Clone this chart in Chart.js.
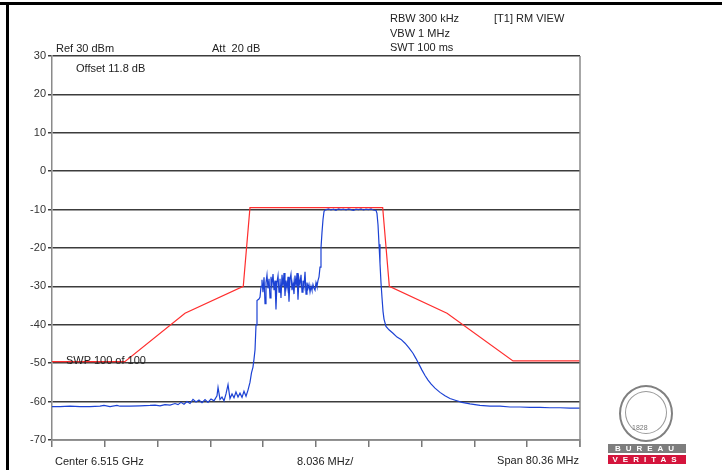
<!DOCTYPE html>
<html lang="en">
<head>
    <meta charset="UTF-8">
    <title>Spectrum Mask</title>
    <script src="https://cdn.jsdelivr.net/npm/chart.js"></script>
    <style>
        body { margin: 0; background: #fff; font-family: 'Liberation Sans', Arial, sans-serif; }
        #wrap { position: relative; width: 722px; height: 470px; overflow: hidden; }
        canvas { position: absolute; left: 0; top: 0; }
        .lbl { position: absolute; font-size: 11px; line-height: 14px; color: #222; white-space: nowrap; }
        .frameTop { position: absolute; left: 0; top: 2px; width: 722px; height: 3px; background: #000; }
        .frameLeft { position: absolute; left: 6px; top: 2px; width: 3px; height: 468px; background: #000; }
        .logoOval { position: absolute; left: 619px; top: 385px; width: 50px; height: 53px; border: 2px solid #808080; border-radius: 50%; }
        .logoInner { position: absolute; left: 625px; top: 391px; width: 40px; height: 41px; border: 1px solid #9a9a9a; border-radius: 50%; }
        .logoBar { position: absolute; left: 608px; width: 78px; height: 9px; font-size: 8px; line-height: 9px; color: #fff; text-align: center; letter-spacing: 5px; font-weight: bold; }
    </style>
</head>
<body>
<div id="wrap">
    <canvas id="specChart" width="722" height="470"></canvas>
    <div class="frameTop"></div>
    <div class="frameLeft"></div>

    <!-- analyzer settings -->
    <div class="lbl" style="left:390px; top:11px;">RBW 300 kHz</div>
    <div class="lbl" style="left:390px; top:26px;">VBW 1 MHz</div>
    <div class="lbl" style="left:390px; top:40px;">SWT 100 ms</div>
    <div class="lbl" style="left:494px; top:11px;">[T1] RM VIEW</div>
    <div class="lbl" style="left:56px; top:41px;">Ref 30 dBm</div>
    <div class="lbl" style="left:212px; top:41px;">Att&nbsp; 20 dB</div>
    <div class="lbl" style="left:76px; top:61px;">Offset 11.8 dB</div>
    <div class="lbl" style="left:66px; top:353px;">SWP 100 of 100</div>
    <div class="lbl" style="left:55px; top:454px;">Center 6.515 GHz</div>
    <div class="lbl" style="left:297px; top:454px;">8.036 MHz/</div>
    <div class="lbl" style="right:143px; top:453px;">Span 80.36 MHz</div>

    <!-- logo -->
    <div class="logoOval"></div>
    <div class="logoInner"></div>
    <div class="lbl" style="left:632px; top:424px; font-size:7px; line-height:8px; color:#777;">1828</div>
    <div class="logoBar" style="top:444px; background:#7d7d7d;">BUREAU</div>
    <div class="logoBar" style="top:455px; background:#d4143c;">VERITAS</div>
</div>

<script>
    // frequency offset from centre (MHz) and level (dBm)
    const maskFreq = [-40.18, -29.1, -19.94, -11.07, -10.05, 10.15, 11.16, 19.94, 29.98, 40.18];
    const maskLevel = [-49.6, -49.6, -37.0, -30.0, -9.5, -9.5, -30.0, -37.0, -49.4, -49.4];

    const traceFreq = [
        -40.18, -38.96, -37.44, -35.92, -34.40, -32.88, -32.27, -31.35, -30.29, -29.83,
        -28.31, -26.79, -25.27, -24.50, -23.74, -22.98, -22.22, -21.46, -21.00, -20.55,
        -20.09, -19.63, -19.18, -18.72, -18.26, -17.81, -17.35, -16.89, -16.44, -15.98,
        -15.52, -15.07, -14.91, -14.61, -14.31, -14.00, -13.70, -13.39, -13.09, -12.78,
        -12.48, -12.18, -11.87, -11.57, -11.26, -10.96, -10.65, -10.35, -10.05, -9.82,
        -9.59, -9.44, -9.28, -9.13, -8.98, -8.83,
        -8.68, -8.52, -8.37, -8.22, -8.07, -7.91, -7.76, -7.61, -7.46, -7.31,
        -7.15, -7.00, -6.85, -6.70, -6.54, -6.39, -6.24, -6.09, -5.94, -5.78,
        -5.63, -5.48, -5.33, -5.17, -5.02, -4.87, -4.72, -4.57, -4.41, -4.26,
        -4.11, -3.96, -3.81, -3.65, -3.50, -3.35, -3.20, -3.04, -2.89, -2.74,
        -2.59, -2.44, -2.28, -2.13, -1.98, -1.83, -1.67, -1.52, -1.37, -1.22,
        -1.07, -0.91, -0.76, -0.61, -0.46, -0.30, -0.15, 0.00, 0.15, 0.30,
        0.46, 0.61, 0.76, 0.91, 1.07, 1.22, 1.37,
        1.52, 1.90, 2.28, 2.66, 3.04, 3.42, 3.80, 4.18, 4.57, 4.95,
        5.33, 5.71, 6.09, 6.47, 6.85, 7.23, 7.61, 7.99, 8.37, 8.75, 9.13,
        9.28, 9.44, 9.59, 9.74, 9.89, 10.05, 10.20, 10.35, 10.65, 11.11,
        11.72, 12.33, 12.94, 13.55, 14.15, 14.76, 15.22, 15.68, 16.13, 16.59,
        17.05, 17.50, 18.11, 18.87, 19.63, 20.39, 21.31, 22.22, 23.44, 24.96,
        26.48, 28.00, 29.53, 31.05, 32.57, 34.09, 35.61, 37.14, 38.66, 40.18
    ];
    const traceLevel = [
        -61.3, -61.3, -61.2, -61.3, -61.3, -61.2, -61.0, -61.3, -61.0, -61.2,
        -61.2, -61.1, -61.0, -60.9, -61.1, -60.8, -60.9, -60.5, -60.8, -60.2,
        -60.7, -60.0, -60.5, -59.4, -60.1, -59.6, -60.3, -59.5, -60.2, -59.3,
        -59.8, -58.5, -56.3, -59.4, -58.8, -59.8, -58.0, -55.6, -59.2, -58.0,
        -59.0, -57.5, -58.8, -57.8, -58.9, -57.3, -58.6, -57.0, -55.0, -52.5,
        -51.0, -49.0, -46.5, -40.0, -33.7, -33.5,
        -33.3, -32.8, -30.0, -28.3, -31.5, -27.6, -34.5, -29.0, -27.0, -30.5,
        -28.0, -33.0, -27.5, -29.5, -26.8, -31.0, -28.5, -36.0, -29.0, -27.2,
        -31.5, -28.0, -33.0, -27.0, -30.0, -26.5, -32.5, -28.5, -30.5, -27.5,
        -34.0, -28.2, -26.8, -31.0, -29.0, -32.0, -27.2, -30.0, -26.5, -33.5,
        -28.0, -29.5, -27.0, -31.5, -28.5, -30.0, -26.2, -32.0, -29.0, -30.5,
        -29.5, -31.5, -30.0, -31.0, -29.5, -30.5, -31.0, -29.0, -30.0, -28.5,
        -27.5, -25.0, -20.0, -16.0, -12.5, -10.5, -10.1,
        -10.0, -9.8, -10.1, -9.9, -10.2, -9.8, -10.0, -9.9, -10.1, -9.8,
        -10.0, -10.2, -9.9, -10.0, -9.8, -10.1, -9.9, -10.0, -9.8, -10.1, -10.2,
        -11.0, -14.0, -19.0, -24.0, -29.0, -33.0, -36.5, -38.5, -40.4, -41.3,
        -42.2, -43.2, -43.8, -44.8, -46.0, -47.4, -48.8, -50.3, -51.8, -53.2,
        -54.4, -55.4, -56.5, -57.6, -58.5, -59.2, -59.7, -60.2, -60.6, -61.0,
        -61.2, -61.2, -61.4, -61.4, -61.5, -61.5, -61.6, -61.6, -61.7, -61.7
    ];

    const levelTicks = [30, 20, 10, 0, -10, -20, -30, -40, -50, -60, -70];
    const spanHalf = 40.18;
    const divWidth = 8.036;

    const toPoints = (xs, ys) => xs.map((x, i) => ({ x: x, y: ys[i] }));

    // right border of the plot, the grid only gives top/left/bottom
    const rightBorder = {
        id: 'rightBorder',
        afterDraw(chart) {
            const a = chart.chartArea;
            const c = chart.ctx;
            c.save();
            c.strokeStyle = '#8a8a8a';
            c.lineWidth = 1.5;
            c.beginPath();
            c.moveTo(a.right, a.top);
            c.lineTo(a.right, a.bottom + 7);
            c.stroke();
            c.restore();
        }
    };

    Chart.defaults.font.family = "'Liberation Sans', Arial, sans-serif";

    new Chart(document.getElementById('specChart'), {
        type: 'scatter',
        data: {
            datasets: [{
                label: 'Limit',
                data: toPoints(maskFreq, maskLevel),
                showLine: true,
                borderColor: '#ff2e2e',
                borderWidth: 1.2,
                pointRadius: 0
            }, {
                label: 'Trace',
                data: toPoints(traceFreq, traceLevel),
                showLine: true,
                borderColor: '#1c42d4',
                borderWidth: 1.2,
                pointRadius: 0
            }]
        },
        options: {
            responsive: false,
            animation: false,
            layout: { padding: { top: 56, right: 142, left: 0, bottom: 0 } },
            plugins: { legend: { display: false }, tooltip: { enabled: false } },
            scales: {
                x: {
                    type: 'linear',
                    min: -spanHalf,
                    max: spanHalf,
                    afterBuildTicks: (s) => { s.ticks = Array.from({ length: 11 }, (_, i) => ({ value: -spanHalf + i * divWidth })); },
                    afterFit: (s) => { s.height = 30; },
                    grid: { drawOnChartArea: false, tickLength: 7, color: '#777', lineWidth: 1.5 },
                    border: { color: '#8a8a8a', width: 1.5 },
                    ticks: { callback: () => '' }
                },
                y: {
                    min: -70,
                    max: 30,
                    afterBuildTicks: (s) => { s.ticks = levelTicks.map(v => ({ value: v })); },
                    afterFit: (s) => { s.width = 52; },
                    grid: { color: '#3c3c3c', lineWidth: 1.5, tickLength: 4 },
                    border: { color: '#8a8a8a', width: 1.5 },
                    ticks: { color: '#333', padding: 2, font: { size: 11 } }
                }
            }
        },
        plugins: [rightBorder]
    });
</script>
</body>
</html>
